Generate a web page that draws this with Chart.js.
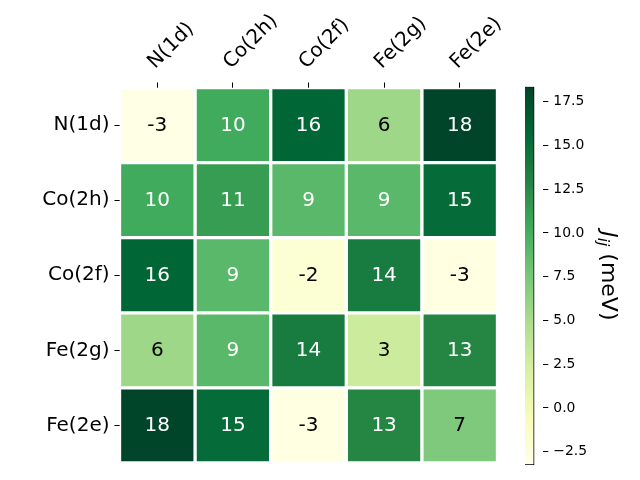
<!DOCTYPE html>
<html><head><meta charset="utf-8">
<script src="https://cdn.jsdelivr.net/npm/chart.js@4/dist/chart.umd.min.js"></script>
<style>
html,body{margin:0;padding:0;background:#fff}
#wrap{position:relative;width:640px;height:480px}
canvas{position:absolute;left:0;top:0}
</style></head><body>
<div id="wrap"><canvas id="hm" width="640" height="480"></canvas><canvas id="cb" width="640" height="480"></canvas></div>
<script>
// ---- data ----
const sites = ['N(1d)', 'Co(2h)', 'Co(2f)', 'Fe(2g)', 'Fe(2e)'];
const rowN1d  = [-3.26, 10.3, 15.8,  5.6, 18.36];
const rowCo2h = [10.3,  11.25, 9.0,  9.0, 15.25];
const rowCo2f = [15.8,   9.0, -2.2, 13.8, -3.1];
const rowFe2g = [ 5.6,   9.0, 13.8,  2.9, 12.8];
const rowFe2e = [18.36, 15.25, -3.1, 12.8,  7.2];
const colorbarTicks = [-2.5, 0, 2.5, 5, 7.5, 10, 12.5, 15, 17.5];
const colorbarTitle = { symbol: 'J', sub: 'ij', unit: ' (meV)' };

const matrix = [rowN1d, rowCo2h, rowCo2f, rowFe2g, rowFe2e];
const allVals = matrix.flat();
const vmin = Math.min(...allVals), vmax = Math.max(...allVals);

// YlGn colormap
const ylgn = ['#ffffe5','#f7fcb9','#d9f0a3','#addd8e','#78c679','#41ab5d','#238443','#006837','#004529'];
function hex2rgb(h){return [1,3,5].map(i=>parseInt(h.substr(i,2),16));}
const ylgnRGB = ylgn.map(hex2rgb);
function norm(v){return (v - vmin) / (vmax - vmin);}
function colorFor(v){
  let t = Math.max(0, Math.min(1, norm(v))) * (ylgnRGB.length - 1);
  let i = Math.min(Math.floor(t), ylgnRGB.length - 2), f = t - i;
  const a = ylgnRGB[i], b = ylgnRGB[i+1];
  const c = a.map((x,k)=>Math.round(x + (b[k]-x)*f));
  return `rgb(${c[0]},${c[1]},${c[2]})`;
}
function fmt(v){ const r = Math.round(v); return String(r === 0 ? 0 : r); }

const FONT = 'DejaVu Sans';

const cellLabels = {
  id: 'cellLabels',
  afterDatasetsDraw(chart){
    const c = chart.ctx;
    c.save();
    c.font = `20px "${FONT}"`;
    c.textAlign = 'center';
    c.textBaseline = 'alphabetic';
    chart.data.datasets.forEach((ds, di) => {
      chart.getDatasetMeta(di).data.forEach((bar, j) => {
        const v = ds.values[j];
        const p = bar.getProps(['x','y','base'], true);
        c.fillStyle = norm(v) > 0.5 ? '#ffffff' : '#000000';
        c.fillText(fmt(v), p.x, (p.y + p.base)/2 + 5.6);
      });
    });
    c.restore();
  }
};

new Chart(document.getElementById('hm'), {
  type: 'bar',
  data: {
    labels: sites,
    datasets: matrix.map((row, r) => ({
      label: sites[r],
      values: row,
      data: row.map(() => [r - 0.5, r + 0.5]),
      backgroundColor: row.map(colorFor),
      borderColor: '#ffffff',
      borderWidth: 2,
      borderSkipped: false,
      barPercentage: 1,
      categoryPercentage: 1,
      grouped: false
    }))
  },
  options: {
    responsive: false,
    animation: false,
    events: [],
    layout: { padding: { left: 0, top: 0, right: 142.5, bottom: 15.8 } },
    plugins: { legend: { display: false }, tooltip: { enabled: false } },
    scales: {
      x: {
        type: 'category',
        position: 'top',
        offset: true,
        border: { display: false },
        grid: { offset: false, drawOnChartArea: false, drawTicks: true, tickLength: 5, color: '#000', tickWidth: 1 },
        ticks: { autoSkip: false, minRotation: 45, maxRotation: 45, padding: 14, color: '#000', font: { family: FONT, size: 20, lineHeight: 0.42 } },
        afterFit: s => { s.height = 87.5; }
      },
      y: {
        type: 'linear',
        reverse: true,
        min: -0.5,
        max: 4.5,
        border: { display: false },
        afterBuildTicks: s => { s.ticks = sites.map((_, i) => ({ value: i })); },
        grid: { drawOnChartArea: false, drawTicks: true, tickLength: 5, color: '#000', tickWidth: 1 },
        ticks: { callback: v => sites[v], padding: 5, color: '#000', font: { family: FONT, size: 20 } },
        afterFit: s => { s.width = 119.5; }
      }
    }
  },
  plugins: [cellLabels]
});

// ---- colorbar ----
const cbTitlePlugin = {
  id: 'cbTitle',
  afterDraw(chart){
    const c = chart.ctx, ca = chart.chartArea;
    const fBig = `italic 22px "${FONT}"`, fSub = `italic 15.5px "${FONT}"`, fN = `22px "${FONT}"`;
    c.save();
    c.fillStyle = '#000';
    c.textBaseline = 'alphabetic';
    c.textAlign = 'left';
    c.font = fBig; const w1 = c.measureText(colorbarTitle.symbol).width;
    c.font = fSub; const w2 = c.measureText(colorbarTitle.sub).width;
    c.font = fN; const w3 = c.measureText(colorbarTitle.unit).width;
    const total = w1 + w2 + w3;
    c.translate(602, (ca.top + ca.bottom)/2);
    c.rotate(Math.PI/2);
    let x = -total/2;
    c.font = fBig; c.fillText(colorbarTitle.symbol, x, 0); x += w1;
    c.font = fSub; c.fillText(colorbarTitle.sub, x, 4.5); x += w2;
    c.font = fN; c.fillText(colorbarTitle.unit, x, 0);
    c.restore();
  }
};

new Chart(document.getElementById('cb'), {
  type: 'bar',
  data: {
    labels: [''],
    datasets: [{
      data: [[vmin, vmax]],
      backgroundColor: ctx => {
        const ca = ctx.chart.chartArea;
        if (!ca) return ylgn[0];
        const g = ctx.chart.ctx.createLinearGradient(0, ca.bottom, 0, ca.top);
        ylgn.forEach((col, i) => g.addColorStop(i/(ylgn.length-1), col));
        return g;
      },
      borderColor: '#000',
      borderWidth: 1,
      borderSkipped: false,
      barPercentage: 1,
      categoryPercentage: 1
    }]
  },
  options: {
    responsive: false,
    animation: false,
    events: [],
    layout: { padding: { left: 525, top: 86.7, bottom: 15, right: 0 } },
    plugins: { legend: { display: false }, tooltip: { enabled: false } },
    scales: {
      x: { display: false, offset: false },
      y: {
        position: 'right',
        min: vmin,
        max: vmax,
        border: { display: false },
        afterBuildTicks: s => { s.ticks = colorbarTicks.map(v => ({ value: v })); },
        grid: { drawOnChartArea: false, drawTicks: true, tickLength: 5, color: '#000', tickWidth: 1 },
        ticks: { callback: v => v.toFixed(1).replace('-', '\u2212'), padding: 5, color: '#000', font: { family: FONT, size: 13.9 } },
        afterFit: s => { s.width = 640 - 543.3; }
      }
    }
  },
  plugins: [cbTitlePlugin]
});
</script>
</body></html>
